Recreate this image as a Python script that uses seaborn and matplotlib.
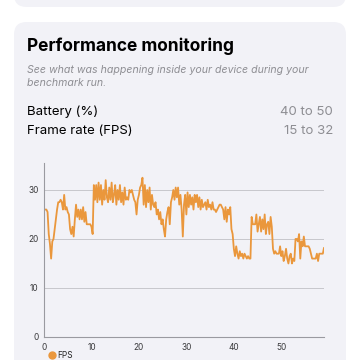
import numpy as np
import pandas as pd
import matplotlib
matplotlib.use("Agg")
import matplotlib.pyplot as plt
import seaborn as sns
from matplotlib.patches import FancyBboxPatch
from matplotlib.lines import Line2D

# FPS samples, one every 0.25 s
fps = [
    26, 26, 26, 25.5, 21, 19, 16, 19.5,
    20, 22, 24, 26, 27.5, 27.5, 28, 27.5,
    26, 29, 26, 26.5, 25.5, 25, 22, 21,
    22.5, 20.5, 24, 27, 24.5, 26, 24, 26,
    24, 26.5, 23.5, 25.5, 23, 23, 23, 23,
    22.5, 21, 31, 28, 31, 27.5, 31.5, 28,
    31, 27, 30, 28, 32, 28.5, 27.5, 30.5,
    28, 31.5, 27.5, 29, 31, 27, 30, 28,
    31, 27.5, 29.5, 27, 30.5, 28, 28.5, 28,
    30, 29.5, 30, 29, 28, 27.5, 25, 28,
    29, 30.5, 31, 32.5, 27, 31, 26.5, 30,
    27.5, 30.5, 26, 29, 27, 26.5, 27.5, 25,
    26, 24, 25.5, 23, 24, 22, 20.5, 24,
    25.5, 26.5, 23, 27.5, 28.5, 30, 28, 30.5,
    28.5, 30.5, 27, 29, 26, 20.5, 27, 29,
    25, 29.5, 26.5, 29, 27, 28.5, 26, 29,
    27.5, 29, 26.5, 28.5, 26, 28, 26.5, 27,
    27.5, 26, 28, 26.5, 27, 26, 27.5, 26,
    26, 25.5, 26, 26.5, 27, 27, 26.5, 26,
    24, 26.5, 23.5, 26, 25, 26.5, 22, 21,
    18, 16.5, 18.5, 17, 16, 17.5, 16.5, 17,
    16, 17, 16.5, 16, 16.5, 16, 16, 24.5,
    23, 23, 23, 25, 21.5, 23, 24.5, 21.5,
    24, 22, 25, 21, 23, 23.5, 21, 24.5,
    22.5, 18, 17, 17.5, 17, 17, 17, 18.5,
    16.5, 17.5, 15.5, 16.5, 18, 16, 15, 16.5,
    17, 15, 16, 15.5, 20, 20, 19.5, 21,
    16, 19.5, 18.5, 20.5, 18.5, 18.5, 18.5, 18.5,
    18, 17, 16, 16, 16, 16, 17, 15.5,
    17, 17, 17, 17, 18.2,
]
seconds = [i * 0.25 for i in range(len(fps))]

x_ticks = [0, 10, 20, 30, 40, 50]
y_ticks = [0, 10, 20, 30]

df = pd.DataFrame({"t": seconds, "fps": fps})

card = "#f2f2f7"
grey = "#8e8e93"
orange = "#ea973c"

sns.set_theme(style="white")
plt.rcParams["font.family"] = ["Inter", "DejaVu Sans"]

fig = plt.figure(figsize=(3.6, 3.6), dpi=100)
fig.patch.set_facecolor("white")

# cards
fig.patches.append(FancyBboxPatch((14 / 360, 0.9806), 332 / 360, 0.2,
                                  boxstyle="round,pad=0,rounding_size=0.035",
                                  transform=fig.transFigure, fc=card, ec="none", zorder=-5))
fig.patches.append(FancyBboxPatch((14 / 360, -0.2), 332 / 360, 0.2 + 338 / 360,
                                  boxstyle="round,pad=0,rounding_size=0.035",
                                  transform=fig.transFigure, fc=card, ec="none", zorder=-5))

fig.text(27 / 360, 1 - 46 / 360, "Performance monitoring", fontsize=12.5, fontweight="bold",
         color="black", va="center", ha="left")
fig.text(27 / 360, 1 - 70 / 360, "See what was happening inside your device during your",
         fontsize=7.6, style="italic", color=grey, va="center", ha="left")
fig.text(27 / 360, 1 - 83 / 360, "benchmark run.",
         fontsize=7.6, style="italic", color=grey, va="center", ha="left")
fig.text(27 / 360, 1 - 112 / 360, "Battery (%)", fontsize=9.5, color="black", va="center")
fig.text(333 / 360, 1 - 112 / 360, "40 to 50", fontsize=9.5, color=grey, va="center", ha="right")
fig.text(27 / 360, 1 - 131 / 360, "Frame rate (FPS)", fontsize=9.5, color="black", va="center")
fig.text(333 / 360, 1 - 131 / 360, "15 to 32", fontsize=9.5, color=grey, va="center", ha="right")

ax = fig.add_axes([44 / 360, 23 / 360, 280 / 360, 174 / 360])
ax.set_facecolor(card)
sns.lineplot(data=df, x="t", y="fps", ax=ax, color=orange, linewidth=1.3, legend=False)

ax.set_xlim(0, seconds[-1])
ax.set_ylim(0, 35.5)
ax.set_xticks(x_ticks)
ax.set_yticks(y_ticks)
ax.tick_params(length=0, labelsize=6, colors="#3a3a3c", pad=4)
ax.set_xlabel("")
ax.set_ylabel("")
for y in y_ticks[1:]:
    ax.axhline(y, color="#c7c7cc", linewidth=0.7, zorder=0)
for side in ["top", "right"]:
    ax.spines[side].set_visible(False)
for side in ["left", "bottom"]:
    ax.spines[side].set_color("#9a9aa0")
    ax.spines[side].set_linewidth(0.8)

handle = Line2D([], [], marker="o", linestyle="none", color=orange, markersize=5)
ax.legend([handle], ["FPS"], loc="upper left", bbox_to_anchor=(0.015, -0.08),
          frameon=False, fontsize=6, handletextpad=0.1, borderaxespad=0,
          borderpad=0, handlelength=1.0)

fig.savefig("out.png", dpi=100, facecolor="white")
